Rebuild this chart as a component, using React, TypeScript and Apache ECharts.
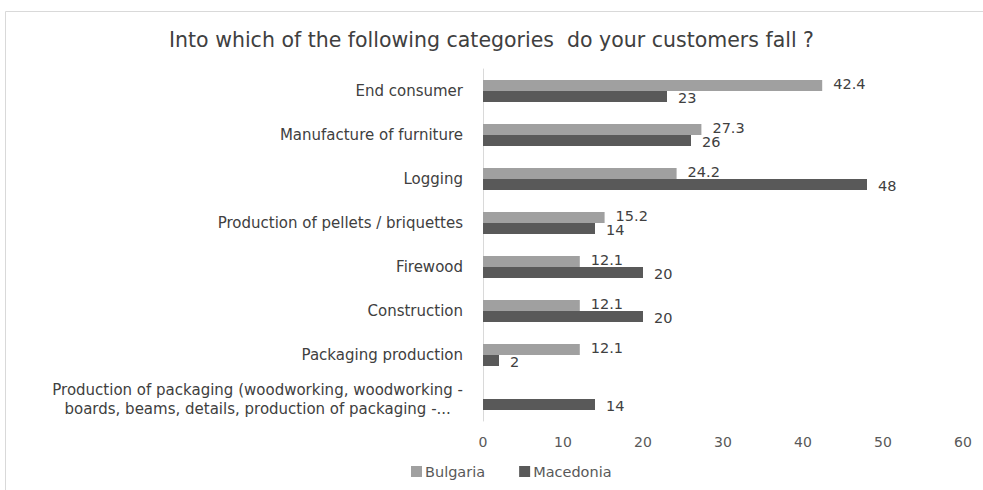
import React, { useEffect, useRef } from "react";
import * as echarts from "echarts";

const categories = [
  "End consumer",
  "Manufacture of furniture",
  "Logging",
  "Production of pellets / briquettes",
  "Firewood",
  "Construction",
  "Packaging production",
  "Production of packaging (woodworking, woodworking -\nboards, beams, details, production of packaging -...",
];
const bulgaria: (number | null)[] = [42.4, 27.3, 24.2, 15.2, 12.1, 12.1, 12.1, null];
const macedonia: number[] = [23, 26, 48, 14, 20, 20, 2, 14];
const seriesNames = ["Bulgaria", "Macedonia"];
const titleText = "Into which of the following categories  do your customers fall ?";

const FONT = "'DejaVu Sans', 'Open Sans', sans-serif";

export default function App() {
  const ref = useRef<HTMLDivElement>(null);
  useEffect(() => {
    if (!ref.current) return;
    const chart = echarts.init(ref.current, undefined, { renderer: "svg" });
    const labelStyle = {
      show: true,
      position: "right" as const,
      distance: 11,
      color: "#404040",
      fontSize: 14.5,
      fontFamily: FONT,
    };
    chart.setOption({
      animation: false,
      backgroundColor: "#ffffff",
      textStyle: { fontFamily: FONT },
      title: {
        text: titleText,
        left: "center",
        top: 24,
        textStyle: { color: "#404040", fontSize: 20.5, fontWeight: "normal", fontFamily: FONT },
      },
      graphic: [
        {
          type: "rect",
          shape: { x: 5.5, y: 11.5, width: 1000, height: 500 },
          style: { fill: "none", stroke: "#d9d9d9", lineWidth: 1 },
          silent: true,
        },
      ],
      legend: {
        data: seriesNames,
        bottom: 6,
        left: 406,
        icon: "rect",
        itemWidth: 11,
        itemHeight: 11,
        itemGap: 34,
        textStyle: { color: "#595959", fontSize: 14.5, fontFamily: FONT, padding: [0, 0, 0, -2] },
      },
      grid: { left: 483, top: 69, width: 480, height: 352, containLabel: false },
      xAxis: {
        type: "value",
        min: 0,
        max: 60,
        interval: 10,
        axisLine: { show: false },
        axisTick: { show: false },
        splitLine: { show: false },
        axisLabel: { color: "#595959", fontSize: 14, margin: 14, fontFamily: FONT },
      },
      yAxis: {
        type: "category",
        inverse: true,
        data: categories,
        axisLine: { show: true, lineStyle: { color: "#d9d9d9", width: 1 } },
        axisTick: { show: false },
        axisLabel: {
          color: "#404040",
          fontSize: 15,
          margin: 20,
          fontFamily: FONT,
          lineHeight: 19,
          formatter: (v: string) =>
            v
              .split("\n")
              .map((l) => "{c|" + l + "}")
              .join("\n"),
          rich: {
            c: { align: "center", color: "#404040", fontSize: 15, fontFamily: FONT, lineHeight: 19 },
          },
        },
      },
      series: [
        {
          name: seriesNames[0],
          type: "bar",
          data: bulgaria,
          barWidth: 11,
          barGap: "0%",
          itemStyle: { color: "#a0a0a0" },
          label: { ...labelStyle, offset: [0, -2] },
        },
        {
          name: seriesNames[1],
          type: "bar",
          data: macedonia,
          barWidth: 11,
          barGap: "0%",
          itemStyle: { color: "#595959" },
          label: { ...labelStyle, offset: [0, 1] },
        },
      ],
    });
    return () => chart.dispose();
  }, []);
  return (
    <div
      ref={ref}
      style={{ position: "fixed", left: 0, top: 0, width: 983, height: 490, background: "#fff" }}
    />
  );
}
